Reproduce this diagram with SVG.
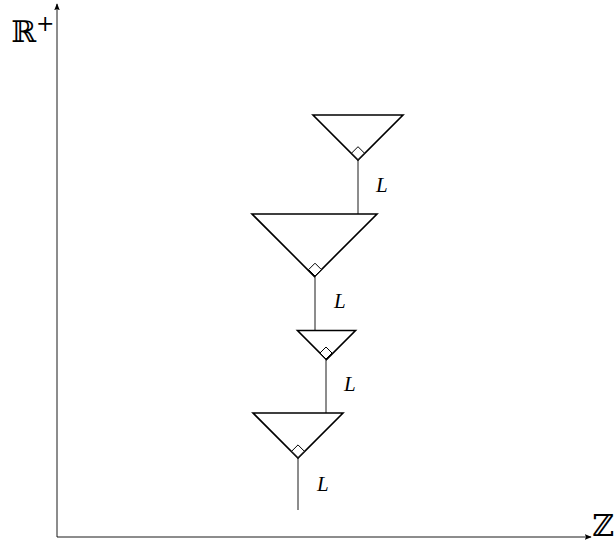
<svg xmlns="http://www.w3.org/2000/svg" width="616" height="543" viewBox="0 0 616 543">
<style>
.tri{fill:none;stroke:#000;stroke-width:1.6;stroke-linejoin:miter}
.dia{fill:#fff;stroke:#000;stroke-width:1}
.link{fill:none;stroke:#000;stroke-width:0.9}
.axis{fill:none;stroke:#000;stroke-width:0.9}
.lbl{font-family:"Liberation Serif","Times New Roman",serif;font-style:italic;font-size:21px;fill:#000}
.ax{font-family:"DejaVu Serif","Noto Sans",serif;font-size:30px;fill:#000}
</style>
<defs>
<marker id="arr" viewBox="0 0 10 10" refX="9" refY="5" markerWidth="7" markerHeight="7" markerUnits="userSpaceOnUse" orient="auto">
<path d="M0,1 L10,5 L0,9 L2,5 Z" fill="#000"/>
</marker>
</defs>
<g id="axes">
<line class="axis" x1="57" y1="537" x2="57" y2="4" marker-end="url(#arr)"/>
<line class="axis" x1="57" y1="537" x2="591" y2="537" marker-end="url(#arr)"/>
<text class="ax" x="11" y="42">ℝ<tspan font-size="22" dy="-11">+</tspan></text>
<text class="ax" x="614" y="536" text-anchor="end">ℤ</text>
</g>
<g id="connectors">
<line class="link" x1="358" y1="159.5" x2="358" y2="214"/>
<line class="link" x1="315" y1="276" x2="315" y2="330.5"/>
<line class="link" x1="326" y1="359" x2="326" y2="413"/>
<line class="link" x1="298" y1="457.5" x2="298" y2="510"/>
<text class="lbl" x="376" y="192">L</text>
<text class="lbl" x="334" y="308">L</text>
<text class="lbl" x="344" y="391">L</text>
<text class="lbl" x="317" y="491">L</text>
</g>
<g id="node1">
<path class="tri" d="M313,115 L403,115 L358,160 Z"/>
<path class="dia" d="M358,159.5 L351.6,153.1 L358,146.7 L364.4,153.1 Z"/>
</g>
<g id="node2">
<path class="tri" d="M252,214 L377,214 L314.5,276.5 Z"/>
<path class="dia" d="M315,276 L308.6,269.6 L315,263.2 L321.4,269.6 Z"/>
</g>
<g id="node3">
<path class="tri" d="M297.5,330.5 L355.5,330.5 L326.5,359.5 Z"/>
<path class="dia" d="M326,359 L320,353 L326,347 L332,353 Z"/>
</g>
<g id="node4">
<path class="tri" d="M253,413 L343,413 L298,458 Z"/>
<path class="dia" d="M298,457.5 L291.7,451.2 L298,444.9 L304.3,451.2 Z"/>
</g>
</svg>
